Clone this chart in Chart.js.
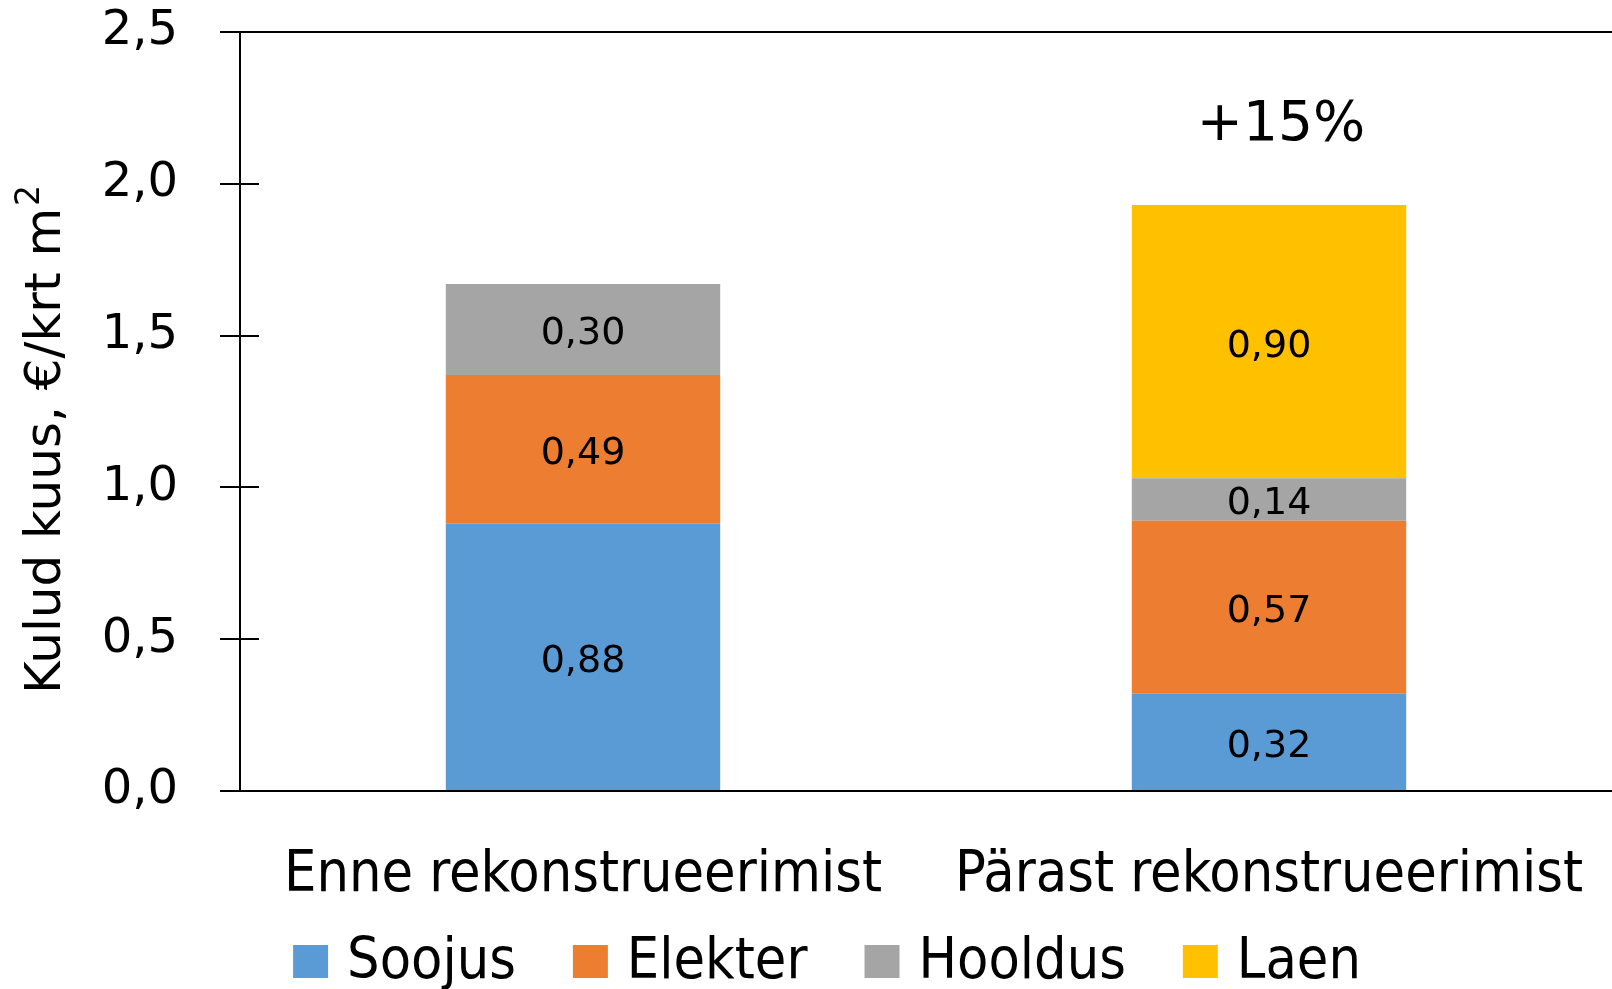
<!DOCTYPE html>
<html>
<head>
<meta charset="utf-8">
<script src="https://cdn.jsdelivr.net/npm/chart.js@4.4.0/dist/chart.umd.min.js"></script>
<style>
  html, body { margin: 0; padding: 0; background: #fff; }
  #wrap { width: 1612px; height: 989px; position: relative; }
</style>
</head>
<body>
<div id="wrap"><canvas id="myChart"></canvas></div>
<script>
// data
const categories = ['Enne rekonstrueerimist', 'Pärast rekonstrueerimist'];
const seriesNames = ['Soojus', 'Elekter', 'Hooldus', 'Laen'];
const soojus  = [0.88, 0.32];
const elekter = [0.49, 0.57];
const hooldus = [0.30, 0.14];
const laen    = [0, 0.90];
const yTicks  = [0, 0.5, 1.0, 1.5, 2.0, 2.5];
const yTitle = 'Kulud kuus, €/krt m';
const yTitleSup = '2';
const changeLabel = '+15%';

let fmt = (v, d) => v.toFixed(d).replace('.', ',');

// values inside the bars, the +15% note, inner tick halves, axis title, legend
const extrasPlugin = {
  id: 'extras',
  afterDatasetsDraw(chart) {
    const ctx = chart.ctx;
    const area = chart.chartArea;
    const y = chart.scales.y;
    ctx.save();
    ctx.fillStyle = '#000';
    ctx.textAlign = 'center';
    ctx.textBaseline = 'middle';
    ctx.font = '38px "DejaVu Sans"';
    chart.data.datasets.forEach((ds, i) => {
      chart.getDatasetMeta(i).data.forEach((bar, j) => {
        const v = ds.data[j];
        if (!v) return;
        const p = bar.getProps(['x', 'y', 'base'], true);
        ctx.fillText(fmt(v, 2), p.x, (p.y + p.base) / 2 + 5);
      });
    });
    // note above the second bar
    ctx.font = '55px "DejaVu Sans"';
    ctx.fillText(changeLabel, chart.scales.x.getPixelForValue(1) + 12, y.getPixelForValue(2.19));

    // tick marks cross the axis
    ctx.strokeStyle = '#000';
    ctx.lineWidth = 2;
    yTicks.forEach(t => {
      const py = Math.round(y.getPixelForValue(t));
      ctx.beginPath();
      ctx.moveTo(area.left, py);
      ctx.lineTo(area.left + 19, py);
      ctx.stroke();
    });

    // legend along the bottom
    ctx.font = '57px "DejaVu Sans Condensed"';
    const items = chart.data.datasets.map(d => ({ text: d.label, color: d.backgroundColor, w: ctx.measureText(d.label).width }));
    const box = 35, gap = 19, sep = 57;
    let total = items.reduce((s, it) => s + box + gap + it.w, 0) + sep * (items.length - 1);
    let lx = chart.width / 2 + 21 - total / 2;
    const ly = chart.height - 28;
    ctx.textAlign = 'left';
    items.forEach(it => {
      ctx.fillStyle = it.color;
      ctx.fillRect(lx, ly - 16, box, 33);
      ctx.fillStyle = '#000';
      ctx.fillText(it.text, lx + box + gap, ly + 2);
      lx += box + gap + it.w + sep;
    });

    // y axis title with superscript
    ctx.translate(area.left - 193, (area.top + area.bottom) / 2 + 29);
    ctx.rotate(-Math.PI / 2);
    ctx.font = '50px "DejaVu Sans"';
    const w = ctx.measureText(yTitle).width;
    ctx.font = '33px "DejaVu Sans"';
    const ws = ctx.measureText(yTitleSup).width;
    const x0 = -(w + ws) / 2;
    ctx.textAlign = 'left';
    ctx.font = '50px "DejaVu Sans"';
    ctx.fillText(yTitle, x0, 0);
    ctx.font = '33px "DejaVu Sans"';
    ctx.fillText(yTitleSup, x0 + w + 2, -17);
    ctx.restore();
  }
};

let plot = () => {
  const ctx = document.getElementById('myChart');
  const colors = ['#5B9BD5', '#ED7D31', '#A5A5A5', '#FFC000'];
  const dataset = {
    labels: categories,
    datasets: [soojus, elekter, hooldus, laen].map((vals, i) => ({
      label: seriesNames[i],
      data: vals,
      backgroundColor: colors[i],
      barPercentage: 0.4,
      categoryPercentage: 1.0,
      borderWidth: 0
    }))
  };

  const config = {
    type: 'bar',
    data: dataset,
    plugins: [extrasPlugin],
    options: {
      responsive: true,
      maintainAspectRatio: false,
      animation: false,
      devicePixelRatio: 1,
      layout: { padding: { left: 104, top: 32, right: 0, bottom: 84 } },
      plugins: {
        tooltip: { enabled: false },
        legend: { display: false }
      },
      scales: {
        x: {
          stacked: true,
          afterFit: (s) => { s.height = 114; s.paddingLeft = 0; s.paddingRight = 0; },
          grid: { display: false },
          border: { display: true, color: '#000', width: 2 },
          ticks: {
            color: '#000',
            font: { family: '"DejaVu Sans Condensed"', size: 57 },
            padding: 43,
            maxRotation: 0,
            autoSkip: false
          }
        },
        y: {
          stacked: true,
          min: 0,
          max: 2.5,
          afterBuildTicks: (s) => { s.ticks = yTicks.map(v => ({ value: v })); },
          afterFit: (s) => { s.width = 136; s.paddingTop = 0; s.paddingBottom = 0; },
          grid: {
            color: (c) => (c.tick && c.tick.value === 2.5 ? '#000' : 'rgba(0,0,0,0)'),
            tickColor: '#000',
            tickLength: 20,
            lineWidth: 2
          },
          border: { display: true, color: '#000', width: 2 },
          ticks: {
            color: '#000',
            font: { family: '"DejaVu Sans"', size: 48 },
            padding: 42,
            callback: (v) => fmt(v, 1)
          }
        }
      }
    }
  };
  const chart = new Chart(ctx, config);
};

plot();
</script>
</body>
</html>
